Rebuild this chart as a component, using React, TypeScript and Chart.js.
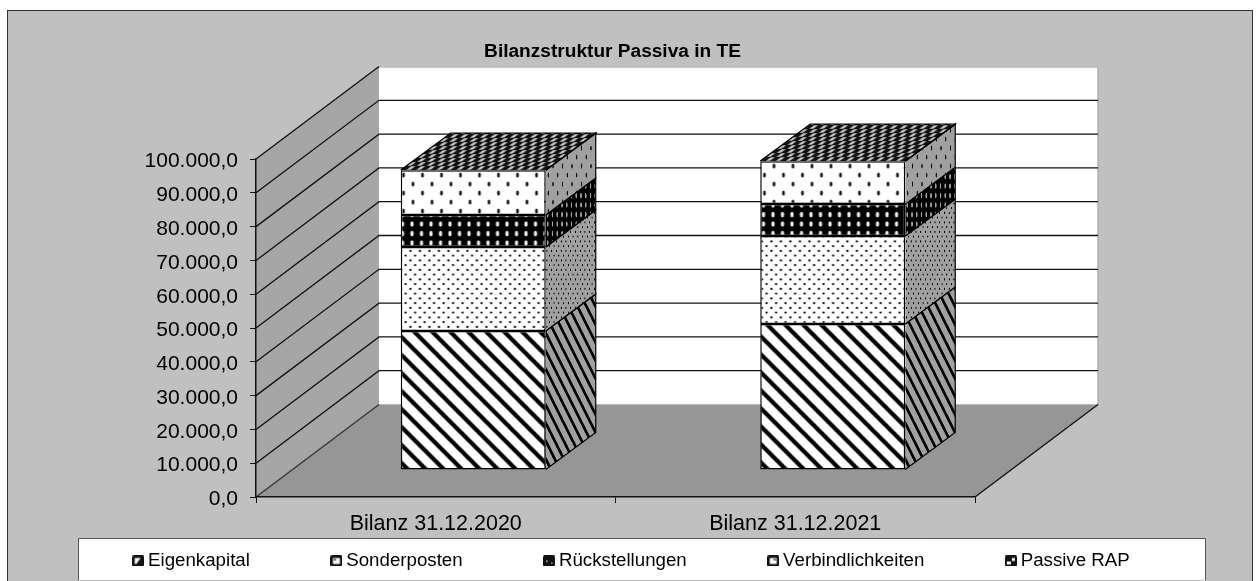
import React, { useEffect, useRef } from "react";
import { Chart, registerables } from "chart.js";

Chart.register(...registerables);

const categories = ["Bilanz 31.12.2020", "Bilanz 31.12.2021"];
const seriesNames = ["Eigenkapital", "Sonderposten", "Rückstellungen", "Verbindlichkeiten", "Passive RAP"];
const eigenkapital = [41100, 43200];
const sonderposten = [24850, 26000];
const rueckstellungen = [9470, 9470];
const verbindlichkeiten = [13300, 12700];
const passiveRap = [50, 50];
const yTickLabels = ["0,0", "10.000,0", "20.000,0", "30.000,0", "40.000,0", "50.000,0", "60.000,0", "70.000,0", "80.000,0", "90.000,0", "100.000,0"];

const FONT = "'Liberation Sans', Arial, sans-serif";
const W = 1258;
const H = 581;
const WALL_DX = 123;
const WALL_DY = -92.5;
const BAR_SHIFT_X = 37.5;
const BAR_SHIFT_Y = -27;
const BAR_DX = 50;
const BAR_DY = -37;
const LEGEND_PADDING = 86;

type Kind = "stripes" | "dense" | "blackDots" | "sparse" | "checker";

function tile(w: number, h: number, draw: (c: CanvasRenderingContext2D) => void) {
  const cv = document.createElement("canvas");
  cv.width = w;
  cv.height = h;
  draw(cv.getContext("2d") as CanvasRenderingContext2D);
  return (document.createElement("canvas").getContext("2d") as CanvasRenderingContext2D).createPattern(cv, "repeat") as CanvasPattern;
}

function dot(c: CanvasRenderingContext2D, x: number, y: number, rx: number, ry: number) {
  c.beginPath();
  c.ellipse(x, y, rx, ry, 0, 0, Math.PI * 2);
  c.fill();
}

function makePattern(kind: Kind, bg: string) {
  if (kind === "stripes") {
    return tile(18, 18, (c) => {
      c.fillStyle = bg;
      c.fillRect(0, 0, 18, 18);
      c.strokeStyle = "#000";
      c.lineWidth = 4.2;
      for (const off of [-18, 0, 18]) {
        c.beginPath();
        c.moveTo(off - 2, -2);
        c.lineTo(off + 20, 20);
        c.stroke();
      }
    });
  }
  if (kind === "dense") {
    return tile(19, 19, (c) => {
      c.fillStyle = bg;
      c.fillRect(0, 0, 19, 19);
      c.fillStyle = "#000";
      for (let i = 0; i < 2; i++) {
        for (let j = 0; j < 2; j++) {
          dot(c, 2.4 + i * 9.5, 2.4 + j * 9.5, 1.15, 1.15);
          dot(c, 7.1 + i * 9.5, 7.1 + j * 9.5, 1.15, 1.15);
        }
      }
    });
  }
  if (kind === "blackDots") {
    return tile(19, 19, (c) => {
      c.fillStyle = "#000";
      c.fillRect(0, 0, 19, 19);
      c.fillStyle = bg === "#fff" ? "#f0f0f0" : bg;
      for (let i = 0; i < 2; i++) {
        for (let j = 0; j < 2; j++) dot(c, 4 + i * 9.5, 4 + j * 9.5, 1.7, 2.8);
      }
    });
  }
  if (kind === "sparse") {
    return tile(19, 18, (c) => {
      c.fillStyle = bg;
      c.fillRect(0, 0, 19, 18);
      c.fillStyle = "#111";
      dot(c, 5, 4, 1.4, 2.6);
      dot(c, 14.5, 13, 1.4, 2.6);
    });
  }
  return tile(10, 16, (c) => {
    c.fillStyle = "#111";
    c.fillRect(0, 0, 10, 16);
    c.fillStyle = "#c4c4c4";
    c.fillRect(0.5, 0.5, 4, 7);
    c.fillRect(5.5, 8.5, 4, 7);
  });
}

const kinds: Kind[] = ["stripes", "dense", "blackDots", "sparse", "checker"];

function marker(i: number) {
  const cv = document.createElement("canvas");
  cv.width = 12;
  cv.height = 11;
  const c = cv.getContext("2d") as CanvasRenderingContext2D;
  c.fillStyle = "#111";
  c.beginPath();
  c.roundRect(0, 0, 12, 11, 1.5);
  c.fill();
  c.fillStyle = "#fff";
  if (i === 0) {
    c.beginPath();
    c.moveTo(2.5, 2.5);
    c.lineTo(8.5, 2.5);
    c.lineTo(4, 8.5);
    c.lineTo(2.5, 8.5);
    c.fill();
  } else if (i === 1) {
    c.fillRect(2.5, 2.5, 7, 6);
    c.fillStyle = "#111";
    c.fillRect(3.5, 3.5, 2, 1.5);
  } else if (i === 2) {
    c.fillStyle = "#ddd";
    c.fillRect(3, 5, 1.5, 1.5);
    c.fillRect(8, 7, 1.5, 1);
  } else if (i === 3) {
    c.fillRect(2.5, 2.5, 7, 6);
    c.fillStyle = "#111";
    c.fillRect(6.5, 3.5, 2, 1.5);
  } else {
    c.fillRect(2, 6, 4, 3);
    c.fillRect(7, 2.5, 3, 3);
  }
  return cv;
}

const wallsPlugin = {
  id: "walls",
  afterLayout(chart: any) {
    chart.legend.left += 4.75;
    chart.legend.right += 4.75;
    chart.legend.top = 551.6 - LEGEND_PADDING;
    chart.titleBlock.left -= 16.5;
    chart.titleBlock.right -= 16.5;
  },
  beforeDraw(chart: any) {
    const { ctx, chartArea: a, scales } = chart;
    const y = scales.y;
    ctx.save();
    ctx.fillStyle = "#c0c0c0";
    ctx.fillRect(7.5, 10.5, 1245, 590);
    ctx.strokeStyle = "#333";
    ctx.lineWidth = 1;
    ctx.strokeRect(7.5, 10.5, 1245, 590);

    const y0 = y.getPixelForValue(0);
    const yT = y.getPixelForValue(100000);
    ctx.fillStyle = "#a6a6a6";
    ctx.beginPath();
    ctx.moveTo(a.left, y0);
    ctx.lineTo(a.left, yT);
    ctx.lineTo(a.left + WALL_DX, yT + WALL_DY);
    ctx.lineTo(a.left + WALL_DX, y0 + WALL_DY);
    ctx.fill();
    ctx.fillStyle = "#fff";
    ctx.strokeStyle = "#999";
    ctx.fillRect(a.left + WALL_DX, yT + WALL_DY, a.right - a.left, y0 - yT);
    ctx.beginPath();
    ctx.moveTo(a.left + WALL_DX, yT + WALL_DY + 0.5);
    ctx.lineTo(a.right + WALL_DX, yT + WALL_DY + 0.5);
    ctx.lineTo(a.right + WALL_DX, y0 + WALL_DY);
    ctx.stroke();

    ctx.fillStyle = "#969696";
    ctx.beginPath();
    ctx.moveTo(a.left, y0);
    ctx.lineTo(a.right, y0);
    ctx.lineTo(a.right + WALL_DX, y0 + WALL_DY);
    ctx.lineTo(a.left + WALL_DX, y0 + WALL_DY);
    ctx.closePath();
    ctx.fill();

    ctx.strokeStyle = "#111";
    ctx.lineWidth = 1.3;
    for (const t of y.ticks) {
      if (t.value === 0) continue;
      const py = y.getPixelForValue(t.value);
      ctx.beginPath();
      ctx.moveTo(a.left, py);
      ctx.lineTo(a.left + WALL_DX, py + WALL_DY);
      if (t.value < 100000) ctx.lineTo(a.right + WALL_DX, py + WALL_DY);
      ctx.stroke();
    }
    ctx.strokeStyle = "#333";
    ctx.beginPath();
    ctx.moveTo(a.left, y0);
    ctx.lineTo(a.left + WALL_DX, y0 + WALL_DY);
    ctx.stroke();
    ctx.strokeStyle = "#111";
    ctx.beginPath();
    ctx.moveTo(a.right, y0);
    ctx.lineTo(a.right + WALL_DX, y0 + WALL_DY);
    ctx.stroke();

    ctx.fillStyle = "#fff";
    ctx.fillRect(78, 538, 1127, 42);
    ctx.strokeStyle = "#555";
    ctx.lineWidth = 1;
    ctx.beginPath();
    ctx.moveTo(78.5, 580);
    ctx.lineTo(78.5, 538.5);
    ctx.lineTo(1205.5, 538.5);
    ctx.lineTo(1205.5, 580);
    ctx.stroke();
    ctx.strokeStyle = "#bbb";
    ctx.beginPath();
    ctx.moveTo(78.5, 580.5);
    ctx.lineTo(1205.5, 580.5);
    ctx.stroke();
    ctx.restore();
  },
  beforeDatasetsDraw(chart: any) {
    const { ctx } = chart;
    ctx.save();
    ctx.translate(BAR_SHIFT_X, BAR_SHIFT_Y);
    const sidePatterns = kinds.map((k) => makePattern(k, "#a0a0a0"));
    const n = chart.data.datasets.length;
    chart.data.datasets.forEach((_: any, di: number) => {
      chart.getDatasetMeta(di).data.forEach((el: any) => {
        const right = el.x + el.width / 2;
        const left = el.x - el.width / 2;
        const top = el.y;
        const base = el.base;
        const quad = () => {
          ctx.beginPath();
          ctx.moveTo(right, top);
          ctx.lineTo(right + BAR_DX, top + BAR_DY);
          ctx.lineTo(right + BAR_DX, base + BAR_DY);
          ctx.lineTo(right, base);
        };
        ctx.save();
        quad();
        ctx.closePath();
        ctx.clip();
        ctx.transform(0.5, 0, 0, 1, right, 0);
        ctx.fillStyle = sidePatterns[di];
        ctx.fillRect(0, top + BAR_DY, BAR_DX * 2, base - top - BAR_DY);
        ctx.restore();
        ctx.strokeStyle = "#000";
        ctx.lineWidth = 1.2;
        quad();
        ctx.stroke();
        if (di === n - 1) {
          ctx.save();
          const k = 0.5;
          ctx.transform(1, 0, (BAR_DX / BAR_DY) * k, k, left, top);
          ctx.fillStyle = sidePatterns[di];
          ctx.fillRect(0, BAR_DY / k, el.width, -BAR_DY / k);
          ctx.restore();
          ctx.beginPath();
          ctx.moveTo(left, top);
          ctx.lineTo(left + BAR_DX, top + BAR_DY);
          ctx.lineTo(right + BAR_DX, top + BAR_DY);
          ctx.lineTo(right, top);
          ctx.stroke();
        }
      });
    });
  },
  afterDatasetsDraw(chart: any) {
    chart.ctx.restore();
  },
};

export default function App() {
  const ref = useRef<HTMLCanvasElement>(null);
  useEffect(() => {
    const values = [eigenkapital, sonderposten, rueckstellungen, verbindlichkeiten, passiveRap];
    const markers = seriesNames.map((_, i) => marker(i));
    const chart = new Chart(ref.current as HTMLCanvasElement, {
      type: "bar",
      data: {
        labels: categories,
        datasets: seriesNames.map((label, i) => ({
          label,
          data: values[i],
          backgroundColor: makePattern(kinds[i], "#fff"),
          borderColor: "#000",
          borderWidth: 1.5,
          borderSkipped: false,
          categoryPercentage: 1,
          barPercentage: 145 / 359.5,
        })),
      },
      plugins: [wallsPlugin],
      options: {
        responsive: false,
        animation: false,
        events: [],
        layout: { padding: 0 },
        scales: {
          x: {
            stacked: true,
            grid: { drawOnChartArea: false, color: "#111", tickLength: 6 },
            border: { color: "#111", width: 1.5 },
            ticks: { color: "#000", font: { family: FONT, size: 21.5 }, padding: 8, maxRotation: 0 },
            afterFit(s: any) {
              s.height = 44;
            },
          },
          y: {
            stacked: true,
            min: 0,
            max: 100000,
            grid: { drawOnChartArea: false, color: "#111", tickLength: 6 },
            border: { color: "#111", width: 1.5 },
            ticks: {
              stepSize: 10000,
              color: "#000",
              padding: 12,
              labelOffset: 2.5,
              font: { family: FONT, size: 21 },
              callback: (v: any) => yTickLabels[Math.round(v / 10000)],
            },
            afterFit(s: any) {
              s.width = 256;
            },
          },
          y2: {
            position: "right",
            grid: { display: false },
            border: { display: false },
            ticks: { display: false },
            afterFit(s: any) {
              s.width = W - 975;
            },
          },
        },
        plugins: {
          tooltip: { enabled: false },
          title: {
            display: true,
            text: "Bilanzstruktur Passiva in TE",
            color: "#000",
            font: { family: FONT, size: 19.1, weight: "bold" },
            padding: { top: 40.5, bottom: 95.6 },
          },
          legend: {
            display: true,
            position: "bottom",
            maxHeight: 40,
            labels: {
              usePointStyle: true,
              pointStyleWidth: 1,
              padding: LEGEND_PADDING,
              color: "#000",
              font: { family: FONT, size: 18.7 },
              generateLabels: () =>
                seriesNames.map((text, i) => ({
                  text,
                  pointStyle: markers[i],
                  datasetIndex: i,
                  hidden: false,
                  lineWidth: 0,
                  fontColor: "#000",
                })),
            },
          },
        },
      },
    } as any);
    return () => chart.destroy();
  }, []);
  return <canvas ref={ref} width={W} height={H} style={{ position: "fixed", left: 0, top: 0, display: "block" }} />;
}
